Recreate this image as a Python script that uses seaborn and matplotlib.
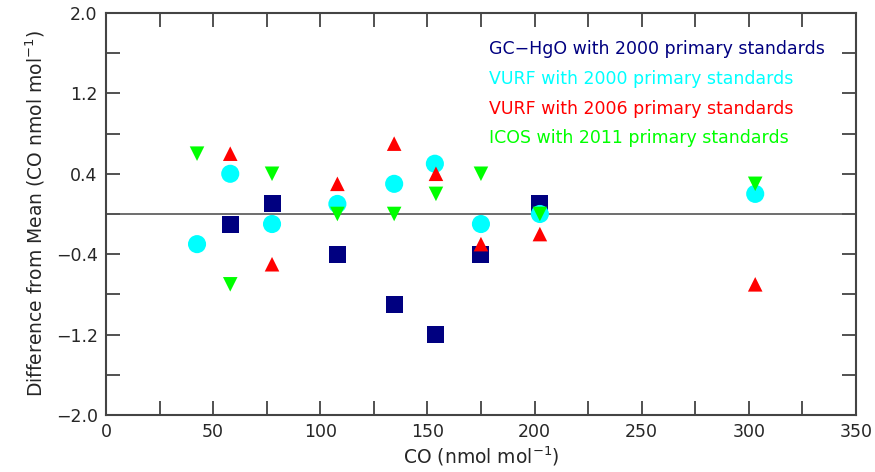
import numpy as np
import pandas as pd
import matplotlib
matplotlib.use("Agg")
import matplotlib.pyplot as plt
from matplotlib.ticker import MultipleLocator, FixedLocator, FuncFormatter
import seaborn as sns

sns.set_style("ticks")
plt.rcParams["font.family"] = ["DejaVu Sans"]

# GC-HgO with 2000 primary standards
gc_x = [58, 77.5, 108, 134.5, 154, 175, 202.5]
gc_y = [-0.1, 0.1, -0.4, -0.9, -1.2, -0.4, 0.1]

# VURF with 2000 primary standards
v00_x = [42.5, 58, 77.5, 108, 134.5, 153.5, 175, 202.5, 303]
v00_y = [-0.3, 0.4, -0.1, 0.1, 0.3, 0.5, -0.1, 0.0, 0.2]

# VURF with 2006 primary standards
v06_x = [58, 77.5, 108, 134.5, 154, 175, 202.5, 303]
v06_y = [0.6, -0.5, 0.3, 0.7, 0.4, -0.3, -0.2, -0.7]

# ICOS with 2011 primary standards
icos_x = [42.5, 58, 77.5, 108, 134.5, 154, 175, 202.5, 303]
icos_y = [0.6, -0.7, 0.4, 0.0, 0.0, 0.2, 0.4, 0.0, 0.3]

y_ticks = [-2.0, -1.2, -0.4, 0.4, 1.2, 2.0]
y_minor = [-1.6, -0.8, 0.0, 0.8, 1.6]

series = [
    ("GC\u2212HgO with 2000 primary standards", gc_x, gc_y, "#000080", "s", 150),
    ("VURF with 2000 primary standards", v00_x, v00_y, "#00FFFF", "o", 170),
    ("VURF with 2006 primary standards", v06_x, v06_y, "#FF0000", "^", 110),
    ("ICOS with 2011 primary standards", icos_x, icos_y, "#00FF00", "v", 110),
]

fig = plt.figure(figsize=(8.75, 4.72), dpi=100)
ax = fig.add_axes([0.1211, 0.1208, 0.8571, 0.8517])

ax.axhline(0, color="#555555", lw=1.2, zorder=1)

for label, xs, ys, color, marker, size in series:
    df = pd.DataFrame({"x": xs, "y": ys})
    sns.scatterplot(data=df, x="x", y="y", color=color, marker=marker, s=size,
                    edgecolor="none", ax=ax, zorder=3)

# colored text legend
for i, (label, xs, ys, color, marker, size) in enumerate(series):
    ax.text(0.511, 0.91 - i * 0.074, label, color=color, fontsize=12.5,
            transform=ax.transAxes, va="center", ha="left")

ax.set_xlim(0, 350)
ax.set_ylim(-2.0, 2.0)
ax.xaxis.set_major_locator(MultipleLocator(50))
ax.xaxis.set_minor_locator(MultipleLocator(25))
ax.yaxis.set_major_locator(FixedLocator(y_ticks))
ax.yaxis.set_minor_locator(FixedLocator(y_minor))
ax.yaxis.set_major_formatter(FuncFormatter(lambda v, p: f"{v:.1f}".replace("-", "\u2212")))
ax.tick_params(which="both", direction="in", top=True, right=True,
               color="#333333", width=1.2)
ax.tick_params(which="major", length=10, labelsize=12.5, pad=6)
ax.tick_params(which="minor", length=10)
for sp in ax.spines.values():
    sp.set_color("#444444")
    sp.set_linewidth(1.5)

ax.set_xlabel("CO (nmol mol$^{-1}$)", fontsize=13.5, labelpad=2)
ax.set_ylabel("Difference from Mean (CO nmol mol$^{-1}$)", fontsize=13.5, labelpad=6)

fig.savefig("out.png", dpi=100)
